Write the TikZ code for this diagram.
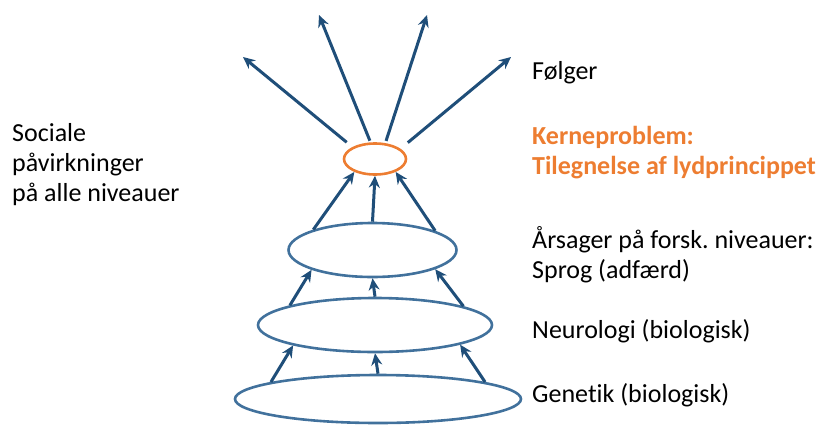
\documentclass[tikz,border=0pt]{standalone}
\usepackage{fontspec}
\setmainfont{Carlito}[Ligatures=NoCommon]
\usetikzlibrary{arrows.meta,shapes.geometric}
\definecolor{arrblue}{HTML}{1F4E79}
\definecolor{ellblue}{HTML}{41719C}
\definecolor{korange}{HTML}{ED7D31}
\frenchspacing
\begin{document}
\begin{tikzpicture}[x=1pt,y=-1pt,
  ell/.style={draw=ellblue,line width=2.6pt,ellipse,inner sep=0pt},
  arr/.style={draw=arrblue,line width=3pt,-{Stealth[length=12pt,width=11pt,inset=4pt]}},
  lbl/.style={anchor=base west,inner sep=0pt,align=left,font=\fontsize{26}{30}\selectfont\frenchspacing}]
\useasboundingbox (0,0) rectangle (825,424);
% ellipses
\node[ell,draw=korange,minimum width=62pt,minimum height=31pt] (core) at (375,159) {};
\node[ell,minimum width=168pt,minimum height=54pt] (e1) at (372.5,250) {};
\node[ell,minimum width=234pt,minimum height=54pt] (e2) at (375,325) {};
\node[ell,minimum width=286pt,minimum height=48pt] (e3) at (378,399) {};
% free arrow ends
\coordinate (t1) at (243,57);
\coordinate (t2) at (319,15);
\coordinate (t3) at (427,15);
\coordinate (t4) at (511,57);
% outgoing arrows
\draw[arr,shorten <=7.4pt] (core.152) -- (t1);
\draw[arr,shorten <=1.8pt] (core.105.7) -- (t2);
\draw[arr,shorten <=2.3pt] (core.57.9) -- (t3);
\draw[arr,shorten <=9.5pt] (core.22.9) -- (t4);
% e1 -> core
\draw[arr] (e1.161.4) -- (core.212);
\draw[arr] (e1.north) -- (core.south);
\draw[arr] (e1.17.7) -- (core.328);
% e2 -> e1
\draw[arr] (e2.167.6) -- (e1.198.3);
\draw[arr] (e2.north) -- (e1.south);
\draw[arr] (e2.12.2) -- (e1.343.4);
% e3 -> e2
\draw[arr] (e3.171.1) -- (e2.194.4);
\draw[arr] (e3.north) -- (e2.south);
\draw[arr] (e3.9.1) -- (e2.347.1);
% texts (base anchor = baseline of last line)
\node[lbl] (soc) at (12,201) {Sociale\\påvirkninger\\på alle niveauer};
\node[lbl] (folg) at (532,79) {Følger};
\node[lbl,text=korange,font=\fontsize{26}{30}\selectfont\bfseries] (kern) at (532,174) {Kerneproblem:\\Tilegnelse af lydprincippet};
\node[lbl] (aars) at (532,278.5) {Årsager på forsk. niveauer:\\Sprog (adfærd)};
\node[lbl] (neur) at (532,338.5) {Neurologi (biologisk)};
\node[lbl] (gene) at (532,402) {Genetik (biologisk)};
\end{tikzpicture}
\end{document}
